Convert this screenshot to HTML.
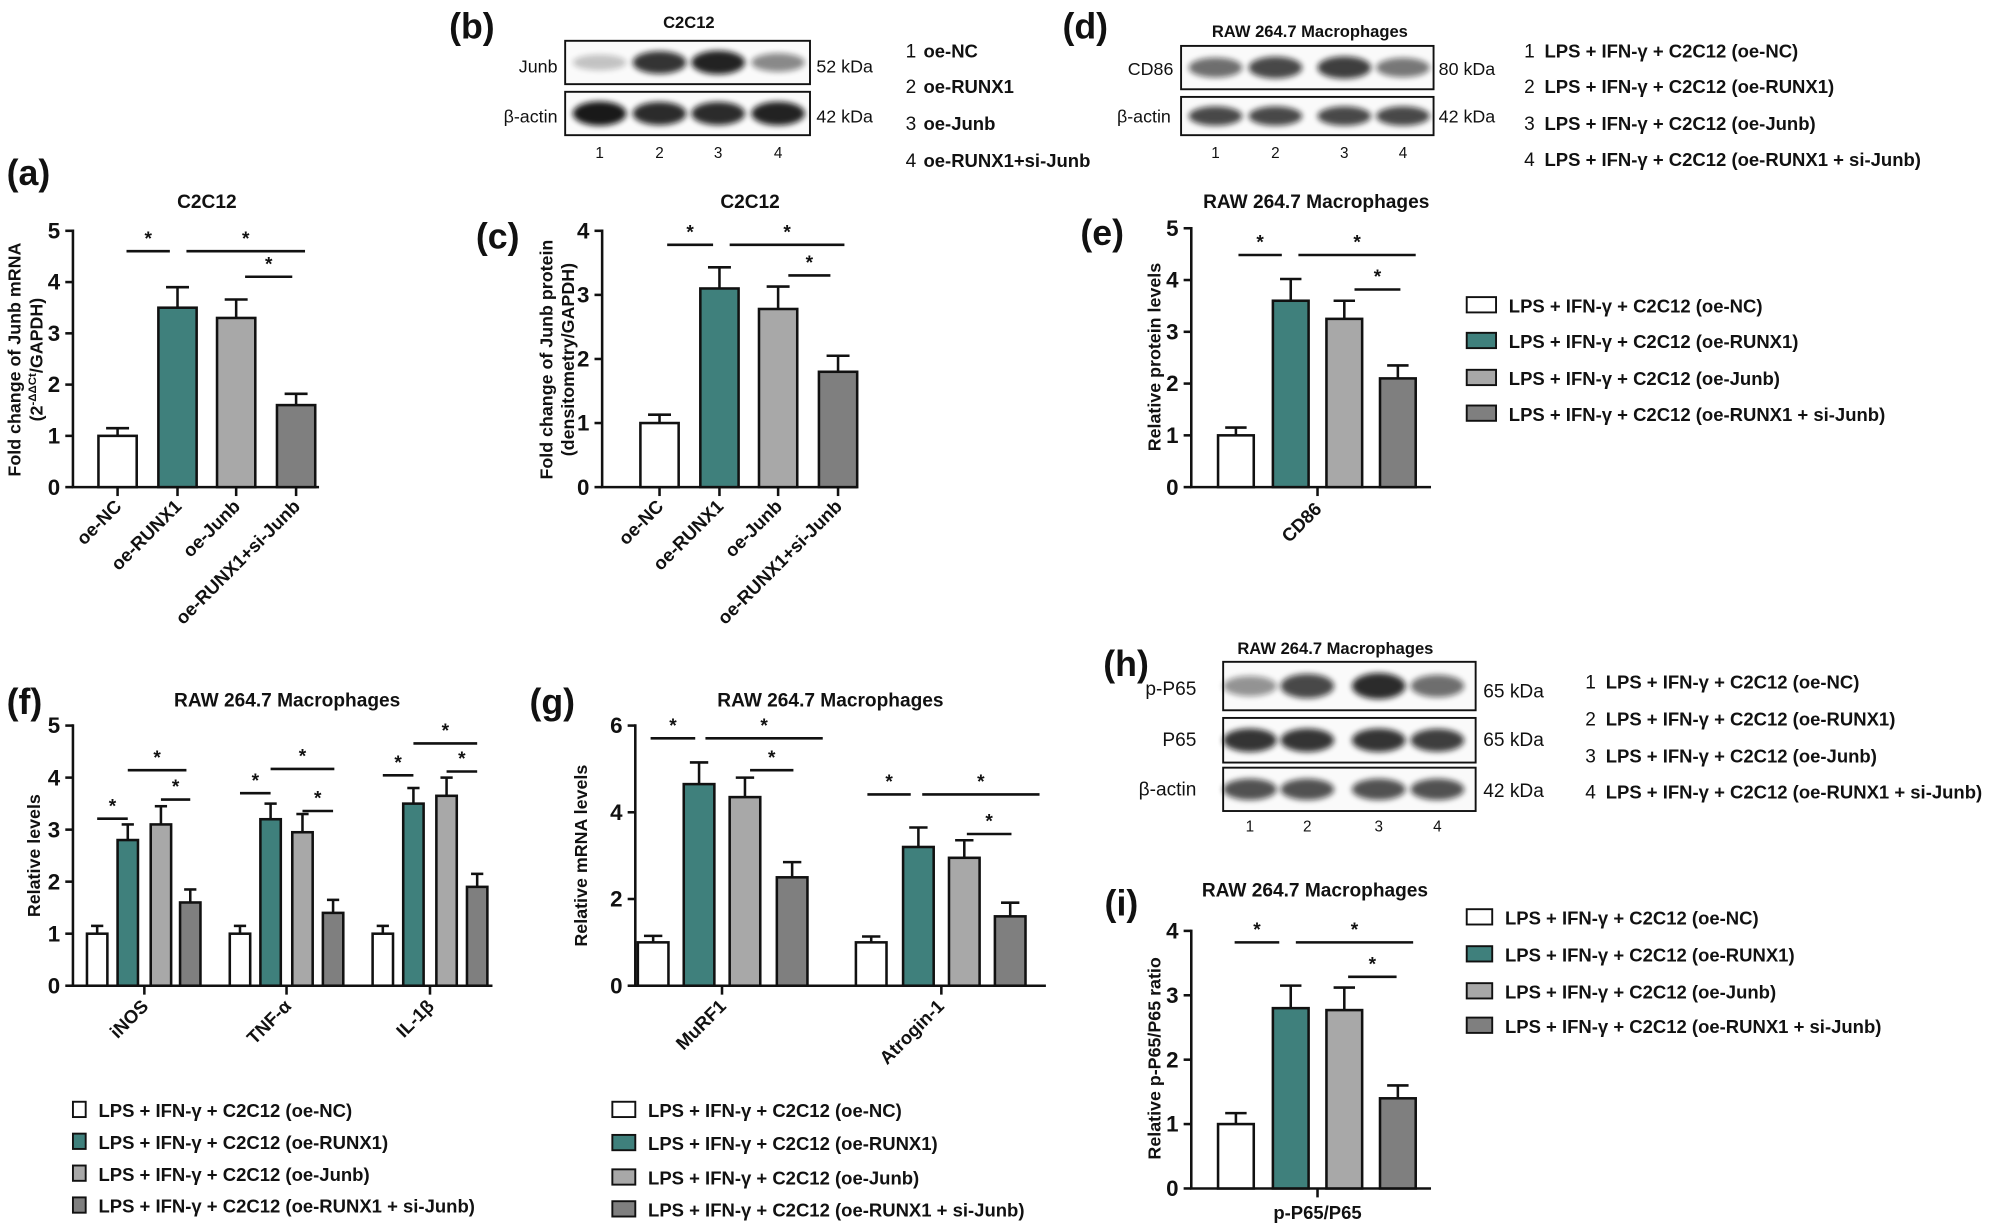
<!DOCTYPE html>
<html><head><meta charset="utf-8"><style>
html,body{margin:0;padding:0;background:#fff;}
svg{display:block;font-family:"Liberation Sans",Arial,sans-serif;}
</style></head><body>
<svg id="s" width="2000" height="1228" viewBox="0 0 1568 963" xmlns="http://www.w3.org/2000/svg">
<defs><filter id="bl" x="-20%" y="-50%" width="140%" height="200%"><feGaussianBlur stdDeviation="2.2"/></filter></defs>
<g id="g" font-weight="bold" fill="#111"></g>
</svg>
<script>
const G=document.getElementById('g');let h='';
const C=['#fff','#3f807c','#a8a8a8','#7f7f7f'];
function T(x,y,t,sz,anc,w,rot){h+=`<text x="${x}" y="${y}" font-size="${sz}" text-anchor="${anc||'start'}" font-weight="${w||'bold'}"${rot?` transform="rotate(${rot} ${x} ${y})"`:''}>${t}</text>`;}
function L(x1,y1,x2,y2,sw){h+=`<line x1="${x1}" y1="${y1}" x2="${x2}" y2="${y2}" stroke="#111" stroke-width="${sw||2}"/>`;}
function axis(x,y0,ppu,ticks,x2){L(x,y0,x,y0-ppu*ticks[ticks.length-1]-1);L(x-1,y0,x2,y0);
 ticks.forEach(v=>{let y=y0-v*ppu;L(x-6,y,x,y);T(x-10,y+6,v,17.5,'end');});}
function bar(cx,w,y0,ppu,v,e,c){let top=y0-v*ppu,ey=y0-(v+e)*ppu;
 L(cx,top,cx,ey);L(cx-w*0.3,ey,cx+w*0.3,ey);
 h+=`<rect x="${cx-w/2}" y="${top}" width="${w}" height="${v*ppu}" fill="${C[c]}" stroke="#111" stroke-width="2"/>`;}
function sig(x1,x2,y){L(x1,y,x2,y);T((x1+x2)/2,y-5,'*',15,'middle');}
function leg(x,tx,ys){const t=['LPS + IFN-γ + C2C12 (oe-NC)','LPS + IFN-γ + C2C12 (oe-RUNX1)','LPS + IFN-γ + C2C12 (oe-Junb)','LPS + IFN-γ + C2C12 (oe-RUNX1 + si-Junb)'];
 ys.forEach((y,i)=>{h+=`<rect x="${x}" y="${y-7}" width="${tx-x-10}" height="12" fill="${C[i]}" stroke="#111" stroke-width="1.5"/>`;T(tx,y+5,t[i],14.5);});}
// (a)
T(5,145,'(a)',28);T(162,163,'C2C12',15,'middle');
axis(57,382,40.2,[0,1,2,3,4,5],250);
[[92,1,.15],[139,3.5,.4],[185,3.3,.36],[232,1.6,.22]].forEach((b,i)=>{bar(b[0],30,382,40.2,b[1],b[2],i);L(b[0],382,b[0],389);});
sig(99,133,197);sig(146,239,197);sig(192,229,217);
['oe-NC','oe-RUNX1','oe-Junb','oe-RUNX1+si-Junb'].forEach((t,i)=>T([92,139,185,232][i]+4,398,t,14.5,'end','bold',-45));
T(16,282,'Fold change of Junb mRNA',14,'middle','bold',-90);T(33,282,'(2<tspan font-size="9" dy="-5">-ΔΔCt</tspan><tspan dy="5">/GAPDH)</tspan>',14,'middle','bold',-90);
// (c)
T(373,195,'(c)',28);T(588,163,'C2C12',15,'middle');
axis(472,382,50.25,[0,1,2,3,4],672);
[[517,1,.13],[564,3.1,.33],[610,2.78,.35],[657,1.8,.25]].forEach((b,i)=>{bar(b[0],30,382,50.25,b[1],b[2],i);L(b[0],382,b[0],389);});
sig(523,559,192);sig(572,662,192);sig(618,651,216);
['oe-NC','oe-RUNX1','oe-Junb','oe-RUNX1+si-Junb'].forEach((t,i)=>T([517,564,610,657][i]+4,398,t,14.5,'end','bold',-45));
T(433,282,'Fold change of Junb protein',14,'middle','bold',-90);T(450,282,'(densitometry/GAPDH)',14,'middle','bold',-90);
// blots
function blot(x1,x2,y1,y2,lanes,ints){h+=`<rect x="${x1}" y="${y1}" width="${x2-x1}" height="${y2-y1}" fill="#fafafa" stroke="#111" stroke-width="1.5"/>`;
 lanes.forEach((lx,i)=>{let a=ints[i];h+=`<ellipse cx="${lx}" cy="${(y1+y2)/2}" rx="21" ry="${(y2-y1)*0.28*(0.6+0.4*a)}" fill="#111" opacity="${0.15+0.8*a}" filter="url(#bl)"/>`;});}
T(352,30,'(b)',28);T(540,22,'C2C12',13,'middle');
blot(443,635,32,66,[470,517,563,610],[.1,.85,.95,.4]);blot(443,635,72,106,[470,517,563,610],[1,.9,.9,.95]);
T(437,57,'Junb',14,'end','normal');T(437,96,'β-actin',14,'end','normal');T(640,57,'52 kDa',14,'start','normal');T(640,96,'42 kDa',14,'start','normal');
[470,517,563,610].forEach((x,i)=>T(x,124,i+1,12,'middle','normal'));
['oe-NC','oe-RUNX1','oe-Junb','oe-RUNX1+si-Junb'].forEach((t,i)=>{T(710,[45,73,102,131][i],(i+1)+' ',15,'start','normal');T(724,[45,73,102,131][i],t,14.5);});
T(833,30,'(d)',28);T(1027,29,'RAW 264.7 Macrophages',13,'middle');
blot(926,1124,36,70,[953,1000,1054,1100],[.55,.75,.8,.5]);blot(926,1124,76,106,[953,1000,1054,1100],[.75,.75,.75,.75]);
T(920,59,'CD86',14,'end','normal');T(918,96,'β-actin',14,'end','normal');T(1128,59,'80 kDa',14,'start','normal');T(1128,96,'42 kDa',14,'start','normal');
[953,1000,1054,1100].forEach((x,i)=>T(x,124,i+1,12,'middle','normal'));
const LT=['LPS + IFN-γ + C2C12 (oe-NC)','LPS + IFN-γ + C2C12 (oe-RUNX1)','LPS + IFN-γ + C2C12 (oe-Junb)','LPS + IFN-γ + C2C12 (oe-RUNX1 + si-Junb)'];
[45,73,102,130].forEach((y,i)=>{T(1195,y,i+1,15,'start','normal');T(1211,y,LT[i],14.5);});
// (e)
T(847,192,'(e)',28);T(1032,163,'RAW 264.7 Macrophages',15,'middle');
axis(934,382,40.6,[0,1,2,3,4,5],1122);
[[969,1,.15],[1012,3.6,.42],[1054,3.25,.35],[1096,2.1,.25]].forEach((b,i)=>bar(b[0],28,382,40.6,b[1],b[2],i));
L(1033,382,1033,389);sig(971,1005,200);sig(1018,1110,200);sig(1062,1098,227);
T(1037,400,'CD86',14.5,'end','bold',-45);T(910,280,'Relative protein levels',14,'middle','bold',-90);
leg(1150,1183,[240,268,297,325]);
// (f)
T(5,560,'(f)',28);T(225,554,'RAW 264.7 Macrophages',15,'middle');
axis(57,773,40.8,[0,1,2,3,4,5],386);
const fv=[[1,2.8,3.1,1.6],[1,3.2,2.95,1.4],[1,3.5,3.65,1.9]],fe=[.15,.3,.35,.25];
[[76,100,126,149],[188,212,237,261],[300,324,350,374]].forEach((xs,g)=>{xs.forEach((x,i)=>bar(x,16,773,40.8,fv[g][i],fe[i],i));L((xs[1]+xs[2])/2,773,(xs[1]+xs[2])/2,780);});
sig(76,100,642);sig(100,146,604);sig(126,149,627);sig(188,212,622);sig(212,262,603);sig(237,261,636);sig(300,324,608);sig(324,374,583);sig(350,374,605);
['iNOS','TNF-α','IL-1β'].forEach((t,i)=>T([117,229,341][i],790,t,14.5,'end','bold',-45));
T(31,671,'Relative levels',14,'middle','bold',-90);
leg(57,77,[871,896,921,946]);
// (g)
T(415,560,'(g)',28);T(651,554,'RAW 264.7 Macrophages',15,'middle');
axis(498,773,34,[0,2,4,6],820);
const gv=[[1,4.65,4.35,2.5],[1,3.2,2.95,1.6]],ge=[.15,.5,.45,.35];
[[512,548,584,621],[683,720,756,792]].forEach((xs,g)=>{xs.forEach((x,i)=>bar(x,24,773,34,gv[g][i],ge[i]*(g?0.9:1),i));L((xs[1]+xs[2])/2,773,(xs[1]+xs[2])/2,780);});
sig(510,545,579);sig(553,645,579);sig(588,622,604);sig(680,714,623);sig(723,815,623);sig(758,793,654);
T(570,790,'MuRF1',14.5,'end','bold',-45);T(741,790,'Atrogin-1',14.5,'end','bold',-45);
T(460,671,'Relative mRNA levels',14,'middle','bold',-90);
leg(480,508,[871,897,924,949]);
// (h)
T(865,530,'(h)',28);T(1047,513,'RAW 264.7 Macrophages',13,'middle');
const hl=[980,1025,1081,1127];
blot(959,1157,519,557,hl,[.35,.75,.9,.55]);blot(959,1157,563,598,hl,[.85,.85,.85,.8]);blot(959,1157,602,636,hl,[.7,.7,.7,.7]);
T(938,545,'p-P65',15,'end','normal');T(938,585,'P65',15,'end','normal');T(938,624,'β-actin',15,'end','normal');
T(1163,547,'65 kDa',15,'start','normal');T(1163,585,'65 kDa',15,'start','normal');T(1163,625,'42 kDa',15,'start','normal');
hl.forEach((x,i)=>T(x,652,i+1,12,'middle','normal'));
[540,569,598,626].forEach((y,i)=>{T(1243,y,i+1,15,'start','normal');T(1259,y,LT[i],14.5);});
// (i)
T(866,718,'(i)',28);T(1031,703,'RAW 264.7 Macrophages',15,'middle');
axis(934,932,50.5,[0,1,2,3,4],1122);
[[969,1,.17],[1012,2.8,.35],[1054,2.77,.35],[1096,1.4,.2]].forEach((b,i)=>bar(b[0],28,932,50.5,b[1],b[2],i));
L(1033,932,1033,939);sig(968,1003,739);sig(1016,1108,739);sig(1057,1095,766);
T(1033,956,'p-P65/P65',14.5,'middle');T(910,830,'Relative p-P65/P65 ratio',14,'middle','bold',-90);
leg(1150,1180,[720,749,778,805]);
G.innerHTML=h;
</script>
</body></html>
